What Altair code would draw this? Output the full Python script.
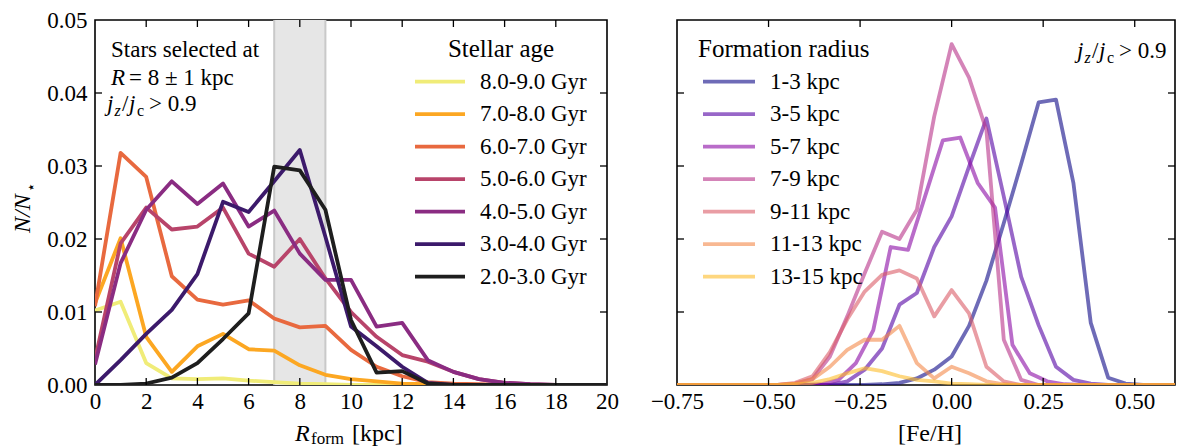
import altair as alt
import pandas as pd

FONT = "Liberation Serif"

# ---------------- left panel data ----------------
R_FORM = [0, 1, 2, 3, 4, 5, 6, 7, 8, 9, 10, 11, 12, 13, 14, 15, 16, 17, 18, 19, 20]
AGE_LABELS = ["8.0-9.0 Gyr", "7.0-8.0 Gyr", "6.0-7.0 Gyr", "5.0-6.0 Gyr",
              "4.0-5.0 Gyr", "3.0-4.0 Gyr", "2.0-3.0 Gyr"]
AGE_COLORS = ["#f0ec78", "#fca722", "#e8693f", "#b8446a", "#8a2c82", "#3c1a6b", "#1e1e1e"]
N_8_9 = [0.0102, 0.0114, 0.0030, 0.0009, 0.0008, 0.0009, 0.0006, 0.0004, 0.0002, 0.0001, 0.0,
         0.0, 0.0, 0.0, 0.0, 0.0, 0.0, 0.0, 0.0, 0.0, 0.0]
N_7_8 = [0.0112, 0.0201, 0.0066, 0.0018, 0.0053, 0.0070, 0.0049, 0.0047, 0.0027, 0.0014, 0.0008,
         0.0005, 0.0002, 0.0001, 0.0, 0.0, 0.0, 0.0, 0.0, 0.0, 0.0]
N_6_7 = [0.0108, 0.0318, 0.0285, 0.0149, 0.0117, 0.0110, 0.0116, 0.0091, 0.0079, 0.0081, 0.0048,
         0.0025, 0.0012, 0.0004, 0.0002, 0.0001, 0.0, 0.0, 0.0, 0.0, 0.0]
N_5_6 = [0.0035, 0.0194, 0.0243, 0.0213, 0.0217, 0.0243, 0.0180, 0.0162, 0.0200, 0.0146, 0.0100,
         0.0066, 0.0041, 0.0032, 0.0018, 0.0008, 0.0003, 0.0001, 0.0, 0.0, 0.0]
N_4_5 = [0.0028, 0.0167, 0.0240, 0.0279, 0.0248, 0.0276, 0.0217, 0.0239, 0.0180, 0.0144, 0.0144,
         0.0080, 0.0085, 0.0034, 0.0018, 0.0008, 0.0003, 0.0001, 0.0, 0.0, 0.0]
N_3_4 = [0.0, 0.0034, 0.0070, 0.0103, 0.0152, 0.0251, 0.0237, 0.0279, 0.0322, 0.0203, 0.0080,
         0.0053, 0.0025, 0.0003, 0.0, 0.0, 0.0, 0.0, 0.0, 0.0, 0.0]
N_2_3 = [0.0, 0.0, 0.0002, 0.0010, 0.0030, 0.0063, 0.0098, 0.0299, 0.0294, 0.0240, 0.0089,
         0.0017, 0.0019, 0.0002, 0.0, 0.0, 0.0, 0.0, 0.0, 0.0, 0.0]
AGE_SERIES = [N_8_9, N_7_8, N_6_7, N_5_6, N_4_5, N_3_4, N_2_3]
BAND = [7, 9]

# ---------------- right panel data ----------------
FEH_BINS = [-0.76, -0.7125, -0.665, -0.6175, -0.57, -0.5225, -0.475, -0.4275, -0.38, -0.3325,
            -0.285, -0.2375, -0.19, -0.1425, -0.095, -0.0475, 0.0, 0.0475, 0.095, 0.1425,
            0.19, 0.2375, 0.285, 0.3325, 0.38, 0.4275, 0.475, 0.5225, 0.57, 0.6175, 0.665]
FEH_BINS_SHIFTED = [-0.784, -0.7365, -0.689, -0.6415, -0.594, -0.5465, -0.499, -0.4515, -0.404,
                    -0.3565, -0.309, -0.2615, -0.214, -0.1665, -0.119, -0.0715, -0.024, 0.0235,
                    0.071, 0.1185, 0.166, 0.2135, 0.261, 0.3085, 0.356, 0.4035, 0.451, 0.4985,
                    0.546, 0.5935, 0.641, 0.6885]
RADIUS_LABELS = ["1-3 kpc", "3-5 kpc", "5-7 kpc", "7-9 kpc", "9-11 kpc", "11-13 kpc", "13-15 kpc"]
RADIUS_COLORS = ["#0d0887", "#5302a3", "#8b0aa5", "#b83289", "#db5c68", "#f48849", "#febd2a"]
F_1_3 = [0.0, 0.0, 0.0, 0.0, 0.0, 0.0, 0.0, 0.0, 0.0, 0.0, 0.0, 0.0, 0.0001, 0.0003, 0.0009,
         0.0021, 0.0039, 0.0081, 0.0143, 0.0222, 0.0303, 0.0387, 0.0391, 0.0277, 0.0085, 0.0010,
         0.0002, 0.0, 0.0, 0.0, 0.0]
F_3_5 = [0.0, 0.0, 0.0, 0.0, 0.0, 0.0, 0.0, 0.0, 0.0, 0.0, 0.0005, 0.0021, 0.0050, 0.0110, 0.0126,
         0.0189, 0.0231, 0.0299, 0.0365, 0.0258, 0.0148, 0.0082, 0.0025, 0.0007, 0.0002, 0.0,
         0.0, 0.0, 0.0, 0.0, 0.0]
F_5_7 = [0.0, 0.0, 0.0, 0.0, 0.0, 0.0, 0.0, 0.0, 0.0, 0.0001, 0.0007, 0.0030, 0.0075, 0.0189,
         0.0185, 0.0260, 0.0335, 0.0339, 0.0277, 0.0243, 0.0055, 0.0016, 0.0005, 0.0001, 0.0,
         0.0, 0.0, 0.0, 0.0, 0.0, 0.0, 0.0]
F_7_9 = [0.0, 0.0, 0.0, 0.0, 0.0, 0.0, 0.0, 0.0002, 0.0008, 0.0039, 0.0094, 0.0153, 0.0210,
         0.0200, 0.0240, 0.0368, 0.0467, 0.0421, 0.0349, 0.0062, 0.0007, 0.0, 0.0, 0.0, 0.0,
         0.0, 0.0, 0.0, 0.0, 0.0, 0.0]
F_9_11 = [0.0, 0.0, 0.0, 0.0, 0.0, 0.0, 0.0, 0.0003, 0.0012, 0.0045, 0.0090, 0.0128, 0.0151,
          0.0157, 0.0146, 0.0094, 0.0130, 0.0098, 0.0025, 0.0005, 0.0, 0.0, 0.0, 0.0, 0.0,
          0.0, 0.0, 0.0, 0.0, 0.0, 0.0]
F_11_13 = [0.0, 0.0, 0.0, 0.0, 0.0, 0.0, 0.0, 0.0002, 0.0008, 0.0025, 0.0048, 0.0062, 0.0062,
           0.0081, 0.0030, 0.0009, 0.0025, 0.0016, 0.0005, 0.0001, 0.0, 0.0, 0.0, 0.0, 0.0,
           0.0, 0.0, 0.0, 0.0, 0.0, 0.0]
F_13_15 = [0.0, 0.0, 0.0, 0.0, 0.0, 0.0, 0.0, 0.0001, 0.0003, 0.0008, 0.0016, 0.0023, 0.0019,
           0.0012, 0.0007, 0.0005, 0.0002, 0.0001, 0.0, 0.0, 0.0, 0.0, 0.0, 0.0, 0.0, 0.0,
           0.0, 0.0, 0.0, 0.0, 0.0]
RADIUS_SERIES = [F_1_3, F_3_5, F_5_7, F_7_9, F_9_11, F_11_13, F_13_15]
RADIUS_X = [FEH_BINS, FEH_BINS, FEH_BINS_SHIFTED, FEH_BINS, FEH_BINS, FEH_BINS, FEH_BINS]

# ---------------- axes ----------------
Y_TICKS = [0.0, 0.01, 0.02, 0.03, 0.04, 0.05]
LEFT_XTICKS = [0, 2, 4, 6, 8, 10, 12, 14, 16, 18, 20]
RIGHT_XTICKS = [-0.75, -0.5, -0.25, 0.0, 0.25, 0.5]

W1, W2, H = 512, 498, 365
TICK_LEN = 7

y_scale = alt.Scale(domain=[0, 0.05], nice=False, zero=False)
xl_scale = alt.Scale(domain=[0, 20], nice=False, zero=False)
xr_scale = alt.Scale(domain=[-0.75, 0.61], nice=False, zero=False)


def y_left(field):
    return alt.Y(f"{field}:Q", scale=y_scale,
                 axis=alt.Axis(values=Y_TICKS, format=".2f", title=None))


def y_right(field):
    return alt.Y(f"{field}:Q", scale=y_scale,
                 axis=alt.Axis(values=Y_TICKS, labels=False, title=None))


def x_left(field):
    return alt.X(f"{field}:Q", scale=xl_scale,
                 axis=alt.Axis(values=LEFT_XTICKS, format="d", title=None))


def x_right(field):
    return alt.X(f"{field}:Q", scale=xr_scale,
                 axis=alt.Axis(values=RIGHT_XTICKS, format=".2f", title=None))


def txt(s, x, y, size, italic=False, align="left", baseline="alphabetic", angle=0):
    kw = dict(align=align, baseline=baseline, font=FONT, fontSize=size, color="black")
    if italic:
        kw["fontStyle"] = "italic"
    if angle:
        kw["angle"] = angle
    return alt.Chart(pd.DataFrame({"t": [s]})).mark_text(**kw).encode(
        x=alt.value(x), y=alt.value(y), text="t:N")


def ticks(xvals, yvals, xenc, yenc, width):
    layers = []
    dfx = pd.DataFrame({"v": xvals})
    dfy = pd.DataFrame({"v": yvals})
    for ya, yb in [(H, H - TICK_LEN), (0, TICK_LEN)]:
        layers.append(alt.Chart(dfx).mark_rule(color="black", strokeWidth=1.3).encode(
            x=xenc("v"), y=alt.value(ya), y2=alt.value(yb)))
    for xa, xb in [(0, TICK_LEN), (width, width - TICK_LEN)]:
        layers.append(alt.Chart(dfy).mark_rule(color="black", strokeWidth=1.3).encode(
            y=yenc("v"), x=alt.value(xa), x2=alt.value(xb)))
    return layers


def legend(title, title_x, title_align, labels, colors, x0, x1, xt, opacity):
    layers = [txt(title, title_x, 37, 25, align=title_align)]
    for i, (lab, col) in enumerate(zip(labels, colors)):
        yy = 61.7 + i * 32.5
        layers.append(alt.Chart(pd.DataFrame({"t": [lab]})).mark_rule(
            color=col, strokeWidth=3.8, opacity=opacity).encode(
            x=alt.value(x0), x2=alt.value(x1), y=alt.value(yy)))
        layers.append(txt(lab, xt, yy, 23, baseline="middle"))
    return layers


def jzjc(x0, yb):
    return [
        txt("j", x0, yb, 23, italic=True),
        txt("z", x0 + 7.5, yb + 5, 16, italic=True),
        txt("/", x0 + 15, yb, 23),
        txt("j", x0 + 22, yb, 23, italic=True),
        txt("c", x0 + 30, yb + 5, 16),
        txt("> 0.9", x0 + 42, yb, 23),
    ]


# ---------------- left panel ----------------
left_layers = []
band_df = pd.DataFrame({"x0": [BAND[0]], "x1": [BAND[1]]})
left_layers.append(alt.Chart(band_df).mark_rect(color="#e6e6e6").encode(
    x=x_left("x0"), x2="x1", y=alt.value(0), y2=alt.value(H)))
left_layers.append(alt.Chart(pd.DataFrame({"b": BAND})).mark_rule(
    color="#c9c9c9", strokeWidth=2).encode(x=x_left("b"), y=alt.value(0), y2=alt.value(H)))
for vals, col in zip(AGE_SERIES, AGE_COLORS):
    df = pd.DataFrame({"R": R_FORM, "n": vals})
    left_layers.append(alt.Chart(df).mark_line(
        color=col, strokeWidth=3.8, clip=True, strokeJoin="round").encode(
        x=x_left("R"), y=y_left("n")))
left_layers += ticks(LEFT_XTICKS[1:-1], Y_TICKS[1:-1], x_left, y_left, W1)
left_layers += legend("Stellar age", 406, "center", AGE_LABELS, AGE_COLORS, 320, 370, 385, 1.0)
left_layers += [
    txt("Stars selected at", 16, 37, 23),
    txt("R", 16, 65, 23, italic=True),
    txt("= 8 ± 1 kpc", 34, 65, 23),
]
left_layers += jzjc(12, 91)
left_layers += [
    txt("R", 200, 421, 24, italic=True),
    txt("form", 216, 424, 17),
    txt("[kpc]", 257, 421, 24),
    txt("N/N", -65, 213, 24, italic=True, angle=270),
    txt("⋆", -59, 172, 15, angle=270),
]
left = alt.layer(*left_layers).properties(width=W1, height=H)

# ---------------- right panel ----------------
right_layers = []
for xs, vals, col in zip(RADIUS_X, RADIUS_SERIES, RADIUS_COLORS):
    df = pd.DataFrame({"feh": xs, "n": vals})
    right_layers.append(alt.Chart(df).mark_line(
        color=col, strokeWidth=3.8, opacity=0.6, clip=True, strokeJoin="round").encode(
        x=x_right("feh"), y=y_right("n")))
right_layers += ticks(RIGHT_XTICKS[1:], Y_TICKS[1:-1], x_right, y_right, W2)
right_layers += legend("Formation radius", 21, "left", RADIUS_LABELS, RADIUS_COLORS, 26, 78, 93, 0.6)
right_layers += jzjc(400, 38)
right_layers.append(txt("[Fe/H]", 253, 421, 24, align="center"))
right = alt.layer(*right_layers).properties(width=W2, height=H)

chart = alt.hconcat(left, right, spacing=70, bounds="flush").properties(
    padding={"left": 2, "top": 0, "right": 0, "bottom": 2}
).configure(font=FONT).configure_view(stroke="black", strokeWidth=1.6).configure_axis(
    grid=False, ticks=False, domain=False, labelFont=FONT, labelFontSize=23,
    labelColor="black", labelFlush=False, labelOverlap=False
).configure_axisX(labelPadding=5).configure_axisY(labelPadding=8)

chart.save("out.html", embed_options={"renderer": "svg", "actions": False})
